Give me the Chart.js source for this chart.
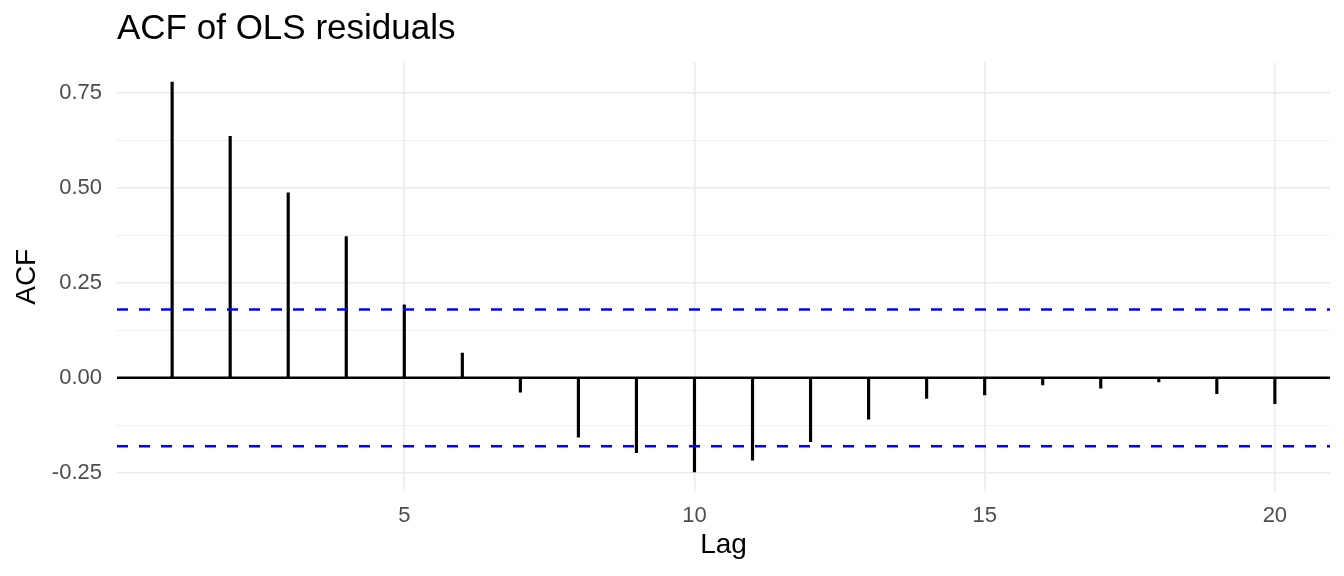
<!DOCTYPE html>
<html>
<head>
<meta charset="utf-8">
<script src="https://cdn.jsdelivr.net/npm/chart.js@4.4.1/dist/chart.umd.min.js"></script>
<style>
  html, body { margin: 0; padding: 0; background: #fff; }
  #wrap { width: 1344px; height: 576px; }
</style>
</head>
<body>
<div id="wrap"><canvas id="canvas"></canvas></div>
<script>
// valores
var lags = [1, 2, 3, 4, 5, 6, 7, 8, 9, 10, 11, 12, 13, 14, 15, 16, 17, 18, 19, 20];
var acf = [0.779, 0.636, 0.487, 0.372, 0.192, 0.065, -0.038, -0.156, -0.197, -0.248,
           -0.217, -0.168, -0.109, -0.054, -0.045, -0.019, -0.027, -0.011, -0.042, -0.068];
var ci = 0.18;
var xTicks = [5, 10, 15, 20];
var yTicks = [-0.25, -0.125, 0, 0.125, 0.25, 0.375, 0.5, 0.625, 0.75];

var fonte = "'Liberation Sans', Arial, Helvetica, sans-serif";
var grade = '#ebebeb';

function isMajor(v){
  return Math.abs(v / 0.25 - Math.round(v / 0.25)) < 1e-6;
}

// linha do zero e limites de confianca
var linhas = {
  id: 'linhas',
  beforeDatasetsDraw: function(chart){
    var ctx = chart.ctx, a = chart.chartArea, y = chart.scales.y;
    ctx.save();
    ctx.strokeStyle = '#000';
    ctx.lineWidth = 2.5;
    ctx.beginPath();
    ctx.moveTo(a.left, y.getPixelForValue(0));
    ctx.lineTo(a.right, y.getPixelForValue(0));
    ctx.stroke();
    ctx.restore();
  },
  afterDatasetsDraw: function(chart){
    var ctx = chart.ctx, a = chart.chartArea, y = chart.scales.y;
    ctx.save();
    ctx.strokeStyle = '#0000ff';
    ctx.lineWidth = 2.5;
    ctx.setLineDash([11, 11]);
    [ci, -ci].forEach(function(v){
      ctx.beginPath();
      ctx.moveTo(a.left, y.getPixelForValue(v));
      ctx.lineTo(a.right, y.getPixelForValue(v));
      ctx.stroke();
    });
    ctx.restore();
  }
};

var dados = lags.map(function(l, i){ return {x: l, y: acf[i]}; });

var ctx = document.getElementById('canvas').getContext('2d');
window.myBar = new Chart(ctx, {
  type: 'bar',
  data: {
    datasets: [{
      label: 'ACF',
      data: dados,
      backgroundColor: '#000',
      borderWidth: 0,
      barThickness: 2.5
    }]
  },
  options: {
    responsive: true,
    maintainAspectRatio: false,
    animation: false,
    layout: { padding: { left: 0, right: 14, top: 0, bottom: 0 } },
    plugins: {
      legend: { display: false },
      tooltip: { enabled: false },
      title: {
        display: true,
        text: 'ACF of OLS residuals',
        align: 'start',
        fullSize: false,
        color: '#000',
        font: { family: fonte, size: 35, weight: 'normal' },
        padding: { top: 8, bottom: 12.6 }
      }
    },
    scales: {
      x: {
        type: 'linear',
        min: 0.05,
        max: 20.95,
        offset: false,
        border: { display: false },
        grid: { color: grade, lineWidth: 1.6, drawTicks: false, offset: false },
        afterBuildTicks: function(s){ s.ticks = xTicks.map(function(v){ return {value: v}; }); },
        afterFit: function(s){ s.height = 85; },
        ticks: {
          autoSkip: false, maxRotation: 0, padding: 12, color: '#4d4d4d',
          font: { family: fonte, size: 22 },
          callback: function(v){ return String(v); }
        },
        title: {
          display: true, text: 'Lag', color: '#000',
          font: { family: fonte, size: 28 },
          padding: { top: 0, bottom: 14 }
        }
      },
      y: {
        min: -0.298,
        max: 0.830,
        border: { display: false },
        grid: {
          color: grade,
          drawTicks: false,
          lineWidth: function(c){ return isMajor(c.tick.value) ? 1.6 : 0.8; }
        },
        afterBuildTicks: function(s){ s.ticks = yTicks.map(function(v){ return {value: v}; }); },
        afterFit: function(s){ s.width = 117; },
        ticks: {
          autoSkip: false, padding: 15, color: '#4d4d4d',
          font: { family: fonte, size: 22 },
          callback: function(v){ return isMajor(v) ? v.toFixed(2) : ''; }
        },
        title: {
          display: true, text: 'ACF', color: '#000',
          font: { family: fonte, size: 28 },
          padding: { top: 10, bottom: 0 }
        }
      }
    }
  },
  plugins: [linhas]
});
</script>
</body>
</html>
